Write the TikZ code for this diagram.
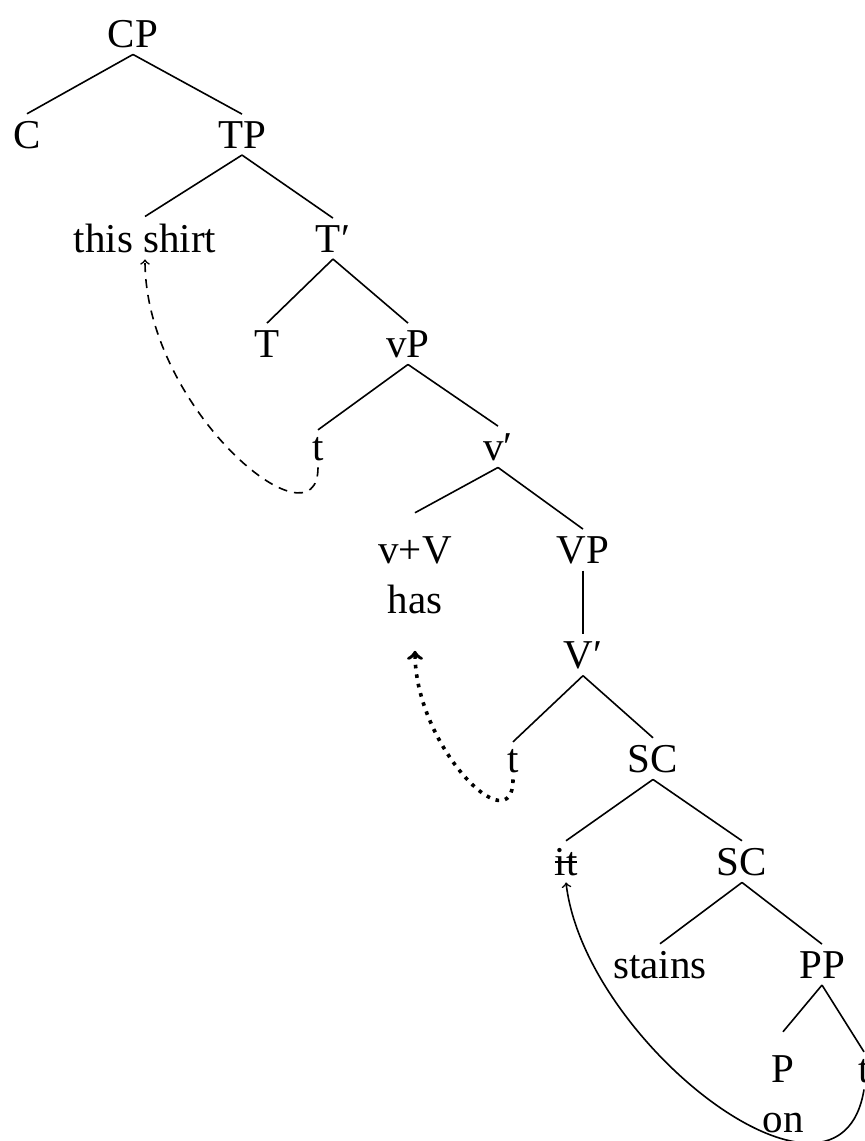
\documentclass[tikz,border=0pt]{standalone}
\usepackage{fontspec}
\setmainfont{Liberation Serif}
\newcommand{\struck}[1]{\setbox0\hbox{#1}\rlap{\rule[0.29em]{\wd0}{0.05em}}#1}

\begin{document}
\begin{tikzpicture}[x=0.5pt, y=-0.5pt,
    every node/.style={anchor=base, inner sep=0.3333em, font={\fontsize{20.5}{25}\selectfont}},
    branch/.style={line width=0.8pt}]
            \useasboundingbox (0,0) rectangle (865,1141);
            \clip (0,0) rectangle (865,1141);

            % Define nodes
            \node (CP) at (133,47) {CP};
            \node (C) at (27,148) {C};
            \node (TP) at (242,148) {TP};
            \node (shirt) at (145,252) {this shirt};
            \node (Tbar) at (333,252) {T′};
            \node (T) at (267,357) {T};
            \node (vP) at (408,357) {vP};
            \node (tv) at (318,460) {t};
            \node (vbar) at (498,460) {v′};
            \node[align=center, inner ysep=11.5pt] (has) at (415,613) {v+V\\has};
            \node (VP) at (583,563) {VP};
            \node (Vbar) at (583,668) {V′};
            \node (tV) at (513,772) {t};
            \node (SCa) at (653,772) {SC};
            \node (it) at (566,875) {\struck{it}};
            \node (SCb) at (742,875) {SC};
            \node (stains) at (660,978) {stains};
            \node (PP) at (822,978) {PP};
            \node[align=center, inner ysep=11.5pt] (on) at (783,1132) {P\\on};
            \node (tP) at (864,1082) {t};

            % Draw branches
            \draw[branch] (CP.south) -- (C.north);
            \draw[branch] (CP.south) -- (TP.north);
            \draw[branch] (TP.south) -- (shirt.north);
            \draw[branch] (TP.south) -- (Tbar.north);
            \draw[branch] (Tbar.south) -- (T.north);
            \draw[branch] (Tbar.south) -- (vP.north);
            \draw[branch] (vP.south) -- (tv.north);
            \draw[branch] (vP.south) -- (vbar.north);
            \draw[branch] (vbar.south) -- (has.north);
            \draw[branch] (vbar.south) -- (VP.north);
            \draw[branch] (VP.south) -- (Vbar.north);
            \draw[branch] (Vbar.south) -- (tV.north);
            \draw[branch] (Vbar.south) -- (SCa.north);
            \draw[branch] (SCa.south) -- (it.north);
            \draw[branch] (SCa.south) -- (SCb.north);
            \draw[branch] (SCb.south) -- (stains.north);
            \draw[branch] (SCb.south) -- (PP.north);
            \draw[branch] (PP.south) -- (on.north);
            \draw[branch] (PP.south) -- (tP.north);

            % Draw movement arrows
            \draw[->, line width=0.8pt, dash pattern=on 4.5pt off 3.5pt] (tv.south) .. controls +(0,85) and +(0,150) .. (shirt.south);
            \draw[->, line width=1.8pt, dash pattern=on 1.8pt off 3pt, shorten >=7pt] (tV.south) .. controls +(0,65) and +(0,110) .. (has.south);
            \draw[->, line width=0.8pt] (tP.south) .. controls +(-24,150) and +(19,161) .. (it.south);
        \end{tikzpicture}
\end{document}
